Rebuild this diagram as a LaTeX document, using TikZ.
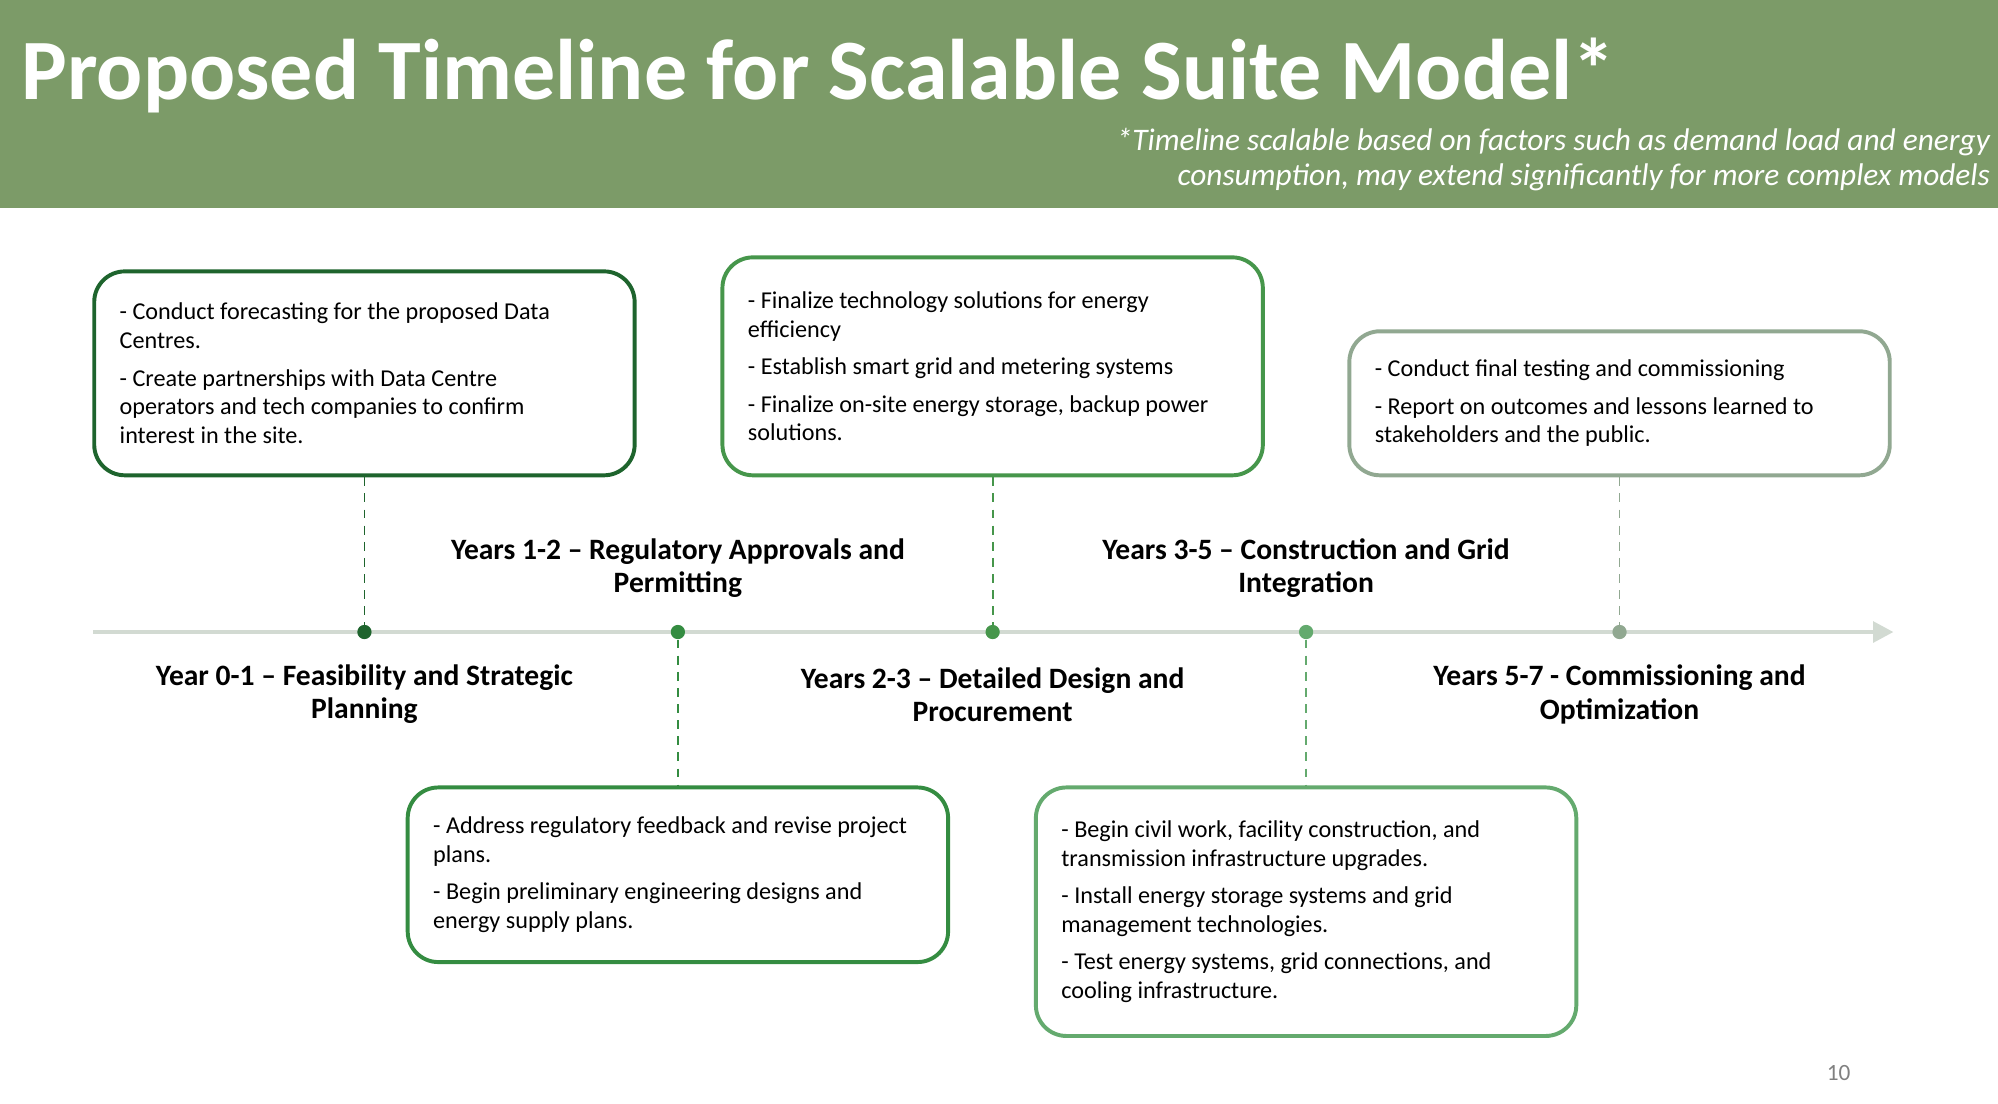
\documentclass[tikz,border=0pt]{standalone}
\usepackage{fontspec}
\setmainfont{Carlito}
\usetikzlibrary{arrows.meta}
\definecolor{banner}{RGB}{124,155,104}
\definecolor{gA}{RGB}{30,100,45}
\definecolor{gB}{RGB}{52,140,65}
\definecolor{gC}{RGB}{70,150,75}
\definecolor{gD}{RGB}{100,170,110}
\definecolor{gE}{RGB}{145,168,145}
\definecolor{axis}{RGB}{210,218,210}
\begin{document}
\begin{tikzpicture}[
    x=0.025cm, y=-0.025cm,
    card/.style={draw, line width=2.2pt, rounded corners=0.6cm, fill=white,
      text width=9.6cm, inner sep=0.5cm, align=flush left,
      font=\fontsize{13.5}{16}\selectfont},
    phase/.style={align=center, font=\fontsize{16.5}{18.5}\selectfont\bfseries},
    dot/.style={circle, inner sep=0pt, minimum size=0.28cm},
    link/.style={dashed, line width=1pt, dash pattern=on 5pt off 4pt}
]
\useasboundingbox (0,0) rectangle (1568,866);
\fill[banner] (0,0) rectangle (1568,163);
\node[anchor=base west, text=white, font=\fontsize{48}{52}\selectfont\bfseries] (title) at (12,78) {Proposed Timeline for Scalable Suite Model*};
\node[anchor=north east, text=white, align=right, inner sep=0pt,
  font=\fontsize{17.5}{20}\selectfont\itshape] (note) at (1562,100)
  {*Timeline scalable based on factors such as demand load and energy\\consumption, may extend significantly for more complex models};

% axis
\coordinate (start) at (73,496);
\coordinate (end) at (1486,496);
\draw[axis, line width=2.5pt, -{Triangle[length=0.4cm,width=0.4cm]}] (start) -- (end);

% dots
\node[dot, fill=gA] (d1) at (286,496) {};
\node[dot, fill=gB] (d2) at (532,496) {};
\node[dot, fill=gC] (d3) at (779,496) {};
\node[dot, fill=gD] (d4) at (1025,496) {};
\node[dot, fill=gE] (d5) at (1271,496) {};

% cards
\node[card, draw=gA, minimum height=4cm] (c1) at (286,293) {- Conduct forecasting for the proposed Data\\Centres.\\[5pt]- Create partnerships with Data Centre\\operators and tech companies to confirm\\interest in the site.};
\node[card, draw=gC, minimum height=4.275cm] (c3) at (779,287.5) {- Finalize technology solutions for energy\\efficiency\\[5pt]- Establish smart grid and metering systems\\[5pt]- Finalize on-site energy storage, backup power\\solutions.};
\node[card, draw=gE, minimum height=2.825cm] (c5) at (1271,316.5) {- Conduct final testing and commissioning\\[5pt]- Report on outcomes and lessons learned to\\stakeholders and the public.};
\node[card, draw=gB, minimum height=3.425cm] (c2) at (532,686.5) {- Address regulatory feedback and revise project\\plans.\\[5pt]- Begin preliminary engineering designs and\\energy supply plans.};
\node[card, draw=gD, minimum height=4.875cm] (c4) at (1025,715.5) {- Begin civil work, facility construction, and\\transmission infrastructure upgrades.\\[5pt]- Install energy storage systems and grid\\management technologies.\\[5pt]- Test energy systems, grid connections, and\\cooling infrastructure.};

% connectors
\draw[link, gA] (c1) -- (d1);
\draw[link, gB] (d2) -- (c2);
\draw[link, gC] (c3) -- (d3);
\draw[link, gD] (d4) -- (c4);
\draw[link, gE] (c5) -- (d5);

% phase labels
\node[phase] (p1) at (286,545) {Year 0-1 – Feasibility and Strategic\\Planning};
\node[phase] (p2) at (532,446) {Years 1-2 – Regulatory Approvals and\\Permitting};
\node[phase] (p3) at (779,545) {Years 2-3 – Detailed Design and\\Procurement};
\node[phase] (p4) at (1025,446) {Years 3-5 – Construction and Grid\\Integration};
\node[phase] (p5) at (1271,545) {Years 5-7 - Commissioning and\\Optimization};

\node[text=gray, font=\fontsize{13}{15}\selectfont] (page) at (1443,842) {10};
\end{tikzpicture}
\end{document}
